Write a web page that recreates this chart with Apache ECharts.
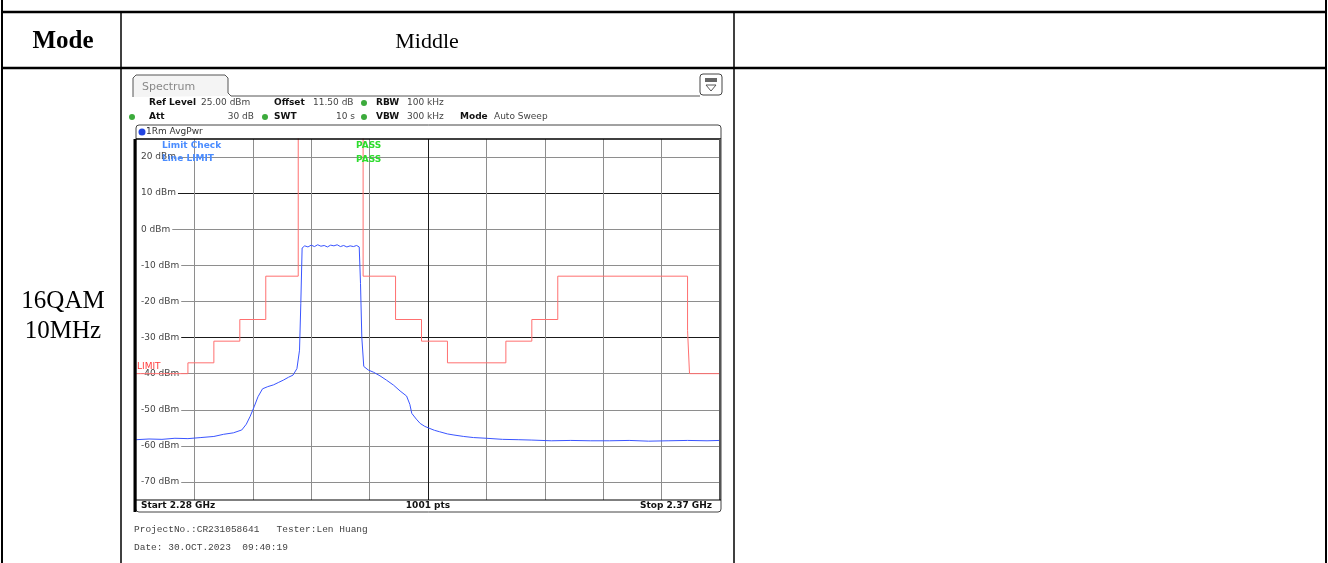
<!DOCTYPE html>
<html>
<head>
<meta charset="utf-8">
<title>16QAM 10MHz Middle</title>
<script src="https://cdn.jsdelivr.net/npm/echarts@6/dist/echarts.min.js"></script>
<style>
html, body { margin: 0; padding: 0; background: #fff; }
#main { width: 1328px; height: 563px; }
</style>
</head>
<body>
<div id="main"></div>
<script>
// trace 1Rm AvgPwr (MHz / dBm)
const traceFreq = [
    2280.0, 2282.0, 2284.0, 2286.0, 2288.0, 2290.0, 2292.0, 2293.5, 2295.0, 2296.3,
    2297.0, 2297.6, 2298.2, 2298.8, 2299.5, 2300.3, 2301.2, 2302.0, 2302.7, 2303.5,
    2304.2, 2304.8, 2305.2, 2305.4, 2305.6,
    2306.0, 2306.5, 2307.0, 2307.5, 2308.0, 2308.5, 2309.0, 2309.5, 2310.0, 2310.5,
    2311.0, 2311.5, 2312.0, 2312.5, 2313.0, 2313.5, 2314.0, 2314.4,
    2314.6, 2314.8, 2315.1, 2315.8, 2316.6, 2317.6, 2318.6, 2319.7, 2320.7, 2321.7,
    2322.2, 2322.5, 2323.2, 2323.8, 2324.5, 2325.3, 2326.0, 2326.8, 2328.0, 2329.0,
    2330.5, 2332.0, 2334.0, 2336.5, 2339.0, 2341.0, 2344.0, 2347.0, 2350.0, 2353.0,
    2356.0, 2359.0, 2362.0, 2365.0, 2368.0, 2370.0
];
const tracePower = [
    -58.3, -58.1, -58.2, -57.9, -58.0, -57.7, -57.4, -56.8, -56.4, -55.6,
    -54.0, -51.8, -49.2, -46.4, -44.2, -43.6, -43.1, -42.4, -41.8, -41.0,
    -40.4, -38.6, -33.5, -20.5, -5.2,
    -4.6, -4.9, -4.4, -4.8, -4.3, -4.7, -4.5, -4.9, -4.4, -4.6,
    -4.3, -4.8, -4.5, -4.9, -4.6, -4.8, -4.5, -4.9,
    -15.0, -30.0, -38.0, -39.0, -39.6, -40.6, -41.8, -43.2, -44.8, -46.2,
    -48.5, -51.0, -52.6, -53.8, -54.6, -55.2, -55.7, -56.1, -56.7, -57.0,
    -57.4, -57.7, -57.9, -58.2, -58.3, -58.4, -58.6, -58.5, -58.6, -58.6,
    -58.5, -58.7, -58.6, -58.5, -58.6, -58.5
];

// limit line LIMIT (MHz / dBm)
const limitFreq = [
    2280, 2288, 2288, 2292, 2292, 2296, 2296, 2300, 2300, 2305, 2305,
    2315, 2315, 2320, 2320, 2324, 2324, 2328, 2328, 2337, 2337, 2341, 2341,
    2345, 2345, 2365, 2365, 2365.3, 2365.3, 2370
];
const limitLevel = [
    -40, -40, -37, -37, -31, -31, -25, -25, -13, -13, 40,
    40, -13, -13, -25, -25, -31, -31, -37, -37, -31, -31, -25,
    -25, -13, -13, -28, -28, -40, -40
];

const headerRow1 = ['Ref Level', '25.00 dBm', 'Offset', '11.50 dB', 'RBW', '100 kHz'];
const headerRow2 = ['Att', '30 dB', 'SWT', '10 s', 'VBW', '300 kHz', 'Mode', 'Auto Sweep'];

const yMin = -75, yMax = 25;
const xMin = 2280, xMax = 2370;

// grid line colours (split lines every 5 dB / 3 MHz, only every 2nd / 3rd shown)
let yGridColors = [];
for (let i = 0; i <= 20; i++) {
    let v = yMin + i * 5;
    if (i === 0 || i === 20 || v % 10 !== 0) yGridColors.push('rgba(0,0,0,0)');
    else if (v === 10 || v === -30) yGridColors.push('#1a1a1a');
    else yGridColors.push('#8e8e8e');
}
let xGridColors = [];
for (let i = 0; i <= 30; i++) {
    if (i === 0 || i === 30 || i % 3 !== 0) xGridColors.push('rgba(0,0,0,0)');
    else if (i === 15) xGridColors.push('#1a1a1a');
    else xGridColors.push('#8e8e8e');
}

function line(x1, y1, x2, y2, color, w) {
    return { type: 'line', z: 50, shape: { x1: x1, y1: y1, x2: x2, y2: y2 }, style: { stroke: color, lineWidth: w } };
}
function txt(x, y, text, font, color, align) {
    return {
        type: 'text', z: 60,
        style: {
            x: x, y: y, text: text, font: font, fill: color,
            align: align || 'left', verticalAlign: 'middle',
            textAlign: align || 'left', textVerticalAlign: 'middle'
        }
    };
}
function dot(x, y, r, color) {
    return { type: 'circle', z: 60, shape: { cx: x, cy: y, r: r }, style: { fill: color } };
}

const small = '9px "DejaVu Sans"';
const smallBold = 'bold 9px "DejaVu Sans"';
const serif = '22px "Liberation Serif"';
const bigSerif = '25px "Liberation Serif"';
const mono = '9.5px "Liberation Mono"';
const green = '#3cab3c';

let graphics = [
    // table
    line(2, 0, 2, 563, '#000', 2),
    line(1326, 0, 1326, 563, '#000', 2),
    line(2, 12, 1326, 12, '#000', 2.5),
    line(2, 68, 1326, 68, '#000', 2.5),
    line(121, 12, 121, 563, '#000', 1.5),
    line(734, 12, 734, 563, '#000', 1.5),
    txt(63, 42, 'Mode', 'bold ' + bigSerif, '#000', 'center'),
    txt(427, 42, 'Middle', serif, '#000', 'center'),
    txt(63, 301, '16QAM', bigSerif, '#000', 'center'),
    txt(63, 331, '10MHz', bigSerif, '#000', 'center'),

    // Spectrum tab
    {
        type: 'polygon', z: 40,
        shape: { points: [[133, 97], [133, 78], [136, 75], [225, 75], [228, 78], [228, 96]] },
        style: { fill: '#f4f4f4' }
    },
    {
        type: 'polyline', z: 50,
        shape: { points: [[133, 97], [133, 78], [136, 75], [225, 75], [228, 78], [228, 93], [231, 96], [700, 96]] },
        style: { stroke: '#555', lineWidth: 1, fill: null }
    },
    txt(142, 87, 'Spectrum', '11px "DejaVu Sans"', '#888'),
    { type: 'rect', z: 50, shape: { x: 700, y: 74, width: 22, height: 21, r: 3 }, style: { fill: '#fff', stroke: '#444', lineWidth: 1 } },
    { type: 'rect', z: 55, shape: { x: 705, y: 78, width: 12, height: 4 }, style: { fill: '#666' } },
    { type: 'polygon', z: 55, shape: { points: [[706, 85], [716, 85], [711, 91]] }, style: { fill: null, stroke: '#555', lineWidth: 1 } },

    // header rows
    txt(149, 103, headerRow1[0], smallBold, '#111'),
    txt(201, 103, headerRow1[1], small, '#444'),
    txt(274, 103, headerRow1[2], smallBold, '#111'),
    txt(313, 103, headerRow1[3], small, '#444'),
    dot(364, 103, 3, green),
    txt(376, 103, headerRow1[4], smallBold, '#111'),
    txt(407, 103, headerRow1[5], small, '#444'),
    dot(132, 117, 3, green),
    txt(149, 117, headerRow2[0], smallBold, '#111'),
    txt(254, 117, headerRow2[1], small, '#444', 'right'),
    dot(265, 117, 3, green),
    txt(274, 117, headerRow2[2], smallBold, '#111'),
    txt(355, 117, headerRow2[3], small, '#444', 'right'),
    dot(364, 117, 3, green),
    txt(376, 117, headerRow2[4], smallBold, '#111'),
    txt(407, 117, headerRow2[5], small, '#444'),
    txt(460, 117, headerRow2[6], smallBold, '#111'),
    txt(494, 117, headerRow2[7], small, '#444'),

    // diagram frame
    { type: 'rect', z: 50, shape: { x: 136, y: 125, width: 585, height: 387, r: 3 }, style: { fill: null, stroke: '#444', lineWidth: 1 } },
    dot(142, 132, 3.5, '#2244e0'),
    txt(146, 132, '1Rm AvgPwr', small, '#333'),
    line(136, 139, 721, 139, '#000', 1.5),
    line(135, 139, 135, 512, '#000', 3),
    line(720, 139, 720, 500, '#555', 2),
    line(136, 500, 721, 500, '#000', 1),
    txt(141, 506, 'Start 2.28 GHz', smallBold, '#111'),
    txt(428, 506, '1001 pts', smallBold, '#111', 'center'),
    txt(712, 506, 'Stop 2.37 GHz', smallBold, '#111', 'right'),

    // limit check
    txt(162, 146, 'Limit Check', smallBold, '#4a8cff'),
    txt(162, 159, 'Line LIMIT', smallBold, '#4a8cff'),
    txt(356, 146, 'PASS', smallBold, '#2ddc2d'),
    txt(356, 160, 'PASS', smallBold, '#2ddc2d'),
    txt(137, 367, 'LIMIT', small, '#ff3b3b'),

    // footer
    txt(134, 529, 'ProjectNo.:CR231058641   Tester:Len Huang', mono, '#444'),
    txt(134, 547, 'Date: 30.OCT.2023  09:40:19', mono, '#444')
];

let myChart = echarts.init(document.getElementById('main'));
myChart.setOption({
    animation: false,
    backgroundColor: '#fff',
    grid: {
        left: 136,
        top: 139,
        width: 584,
        height: 361,
        outerBoundsMode: 'none'
    },
    xAxis: {
        type: 'value',
        min: xMin,
        max: xMax,
        interval: 3,
        axisLine: { show: false },
        axisTick: { show: false },
        axisLabel: { show: false },
        splitLine: { show: true, lineStyle: { color: xGridColors, width: 1 } }
    },
    yAxis: {
        type: 'value',
        min: yMin,
        max: yMax,
        interval: 5,
        axisLine: { show: false },
        axisTick: { show: false },
        axisLabel: {
            inside: true,
            margin: 0,
            fontSize: 9,
            fontFamily: 'DejaVu Sans',
            color: '#444',
            backgroundColor: '#fff',
            padding: [1, 2, 1, 5],
            formatter: function (v) {
                return (v % 10 === 0 && v > yMin && v < yMax) ? v + ' dBm' : '';
            }
        },
        splitLine: { show: true, lineStyle: { color: yGridColors, width: 1 } }
    },
    graphic: { elements: graphics },
    series: [
        {
            name: 'LIMIT',
            type: 'line',
            showSymbol: false,
            clip: true,
            lineStyle: { color: '#ff7070', width: 1 },
            data: limitFreq.map((f, i) => [f, limitLevel[i]])
        },
        {
            name: '1Rm AvgPwr',
            type: 'line',
            showSymbol: false,
            clip: true,
            lineStyle: { color: '#3a55ff', width: 1 },
            data: traceFreq.map((f, i) => [f, tracePower[i]])
        }
    ]
});
</script>
</body>
</html>
